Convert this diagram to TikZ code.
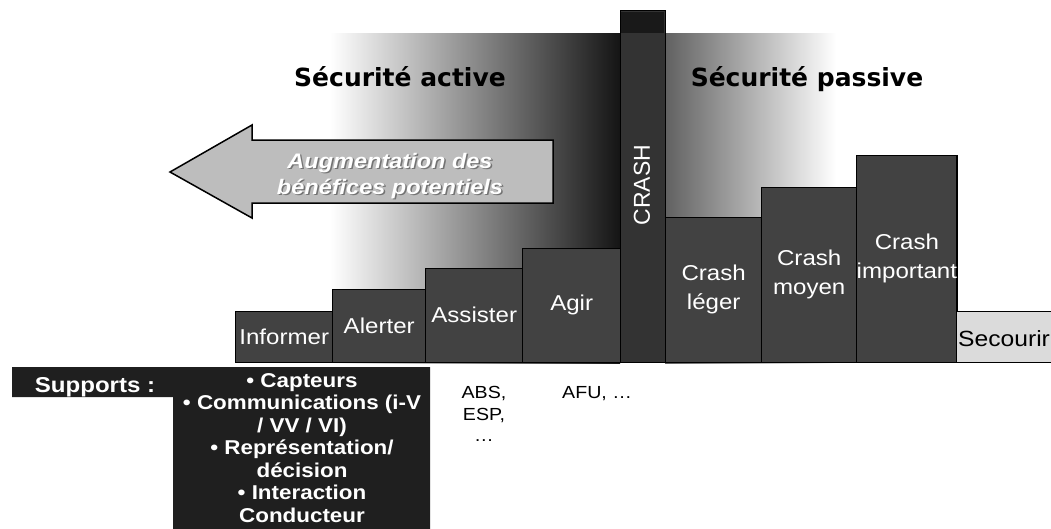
\documentclass[tikz,border=0pt]{standalone}
\usepackage{fontspec}
\setmainfont{Liberation Sans}[FakeStretch=1.12]
\newfontfamily\titlefont{DejaVu Sans}
\newfontfamily\plainarial{Liberation Sans}
\begin{document}
\begin{tikzpicture}[x=1pt,y=-1pt,
  bar/.style={draw=black, line width=1.4pt, fill=black!74, inner sep=0pt,
    anchor=south west, text=white, align=center,
    font=\fontsize{21.5}{29}\selectfont},
  title/.style={font=\titlefont\bfseries\fontsize{25}{30}\selectfont, anchor=base, inner sep=0pt},
  arrowtxt/.style={font=\bfseries\itshape\fontsize{21}{26}\selectfont, align=center, inner sep=0pt},
  suptxt/.style={text=white, font=\bfseries\fontsize{20}{22.5}\selectfont, align=center, inner sep=0pt},
  plain/.style={font=\fontsize{17.5}{21.5}\selectfont, align=center, inner sep=0pt}]
\useasboundingbox (0,0) rectangle (1051,528);
% background shadings
\shade[left color=white, right color=black!92] (330,33) rectangle (620,363);
\shade[left color=black!62, right color=white] (665,33) rectangle (836,363);
% arrow
\draw[line width=1.5pt, fill=black!26, line join=miter]
  (170,172) -- (252,125) -- (252,140) -- (553,140) -- (553,203) -- (252,203) -- (252,218) -- cycle;
\node[arrowtxt, text=black!55] (arrsh) at (391.5,177.5) {Augmentation des\\bénéfices potentiels};
\node[arrowtxt, text=white] (arr) at (390,176) {Augmentation des\\bénéfices potentiels};
% titles
\node[title] (act) at (400,86) {Sécurité active};
\node[title] (pas) at (807,86) {Sécurité passive};
% bars
\node[bar, minimum width=97pt, minimum height=51pt] (inf) at (235,363) {Informer};
\node[bar, minimum width=93pt, minimum height=73pt] (ale) at (332,363) {Alerter};
\node[bar, minimum width=97pt, minimum height=94pt] (ass) at (425,363) {Assister};
\node[bar, minimum width=98pt, minimum height=114pt] (agi) at (522,363) {Agir};
\node[bar, fill=black!80, minimum width=45pt, minimum height=352pt] (crash) at (620,363) {};
\fill[black!90] (621,12) rectangle (664,33);
\node[rotate=90, text=white, inner sep=0pt, font=\plainarial\fontsize{23}{26}\selectfont] (crashlbl) at (642,185) {CRASH};
\node[bar, minimum width=96pt, minimum height=145pt] (leg) at (665,363) {Crash\\léger};
\node[bar, minimum width=95pt, minimum height=175pt] (moy) at (761,363) {Crash\\moyen};
\node[bar, minimum width=100pt, minimum height=207pt] (imp) at (856,363) {Crash\\important};
\node[bar, fill=black!14, minimum width=100pt, minimum height=51pt] (sec) at (956,363) {};
\node[anchor=west, inner sep=0pt, font=\fontsize{22}{26}\selectfont] (seclbl) at (958,339) {Secourir};
% supports
\fill[black!88] (12,367) -- (430,367) -- (430,530) -- (173,530) -- (173,397) -- (12,397) -- cycle;
\node[suptxt, font=\bfseries\fontsize{21.5}{24}\selectfont, anchor=base] (sup) at (95,392) {Supports :};
\node[suptxt] (list) at (302,448) {• Capteurs\\• Communications (i-V\\/ VV / VI)\\• Représentation/\\décision\\• Interaction\\Conducteur};
\node[plain] (abs) at (484,414) {ABS,\\ESP,\\…};
\node[plain, anchor=base west] (afu) at (562,398) {AFU, …};
\end{tikzpicture}
\end{document}
